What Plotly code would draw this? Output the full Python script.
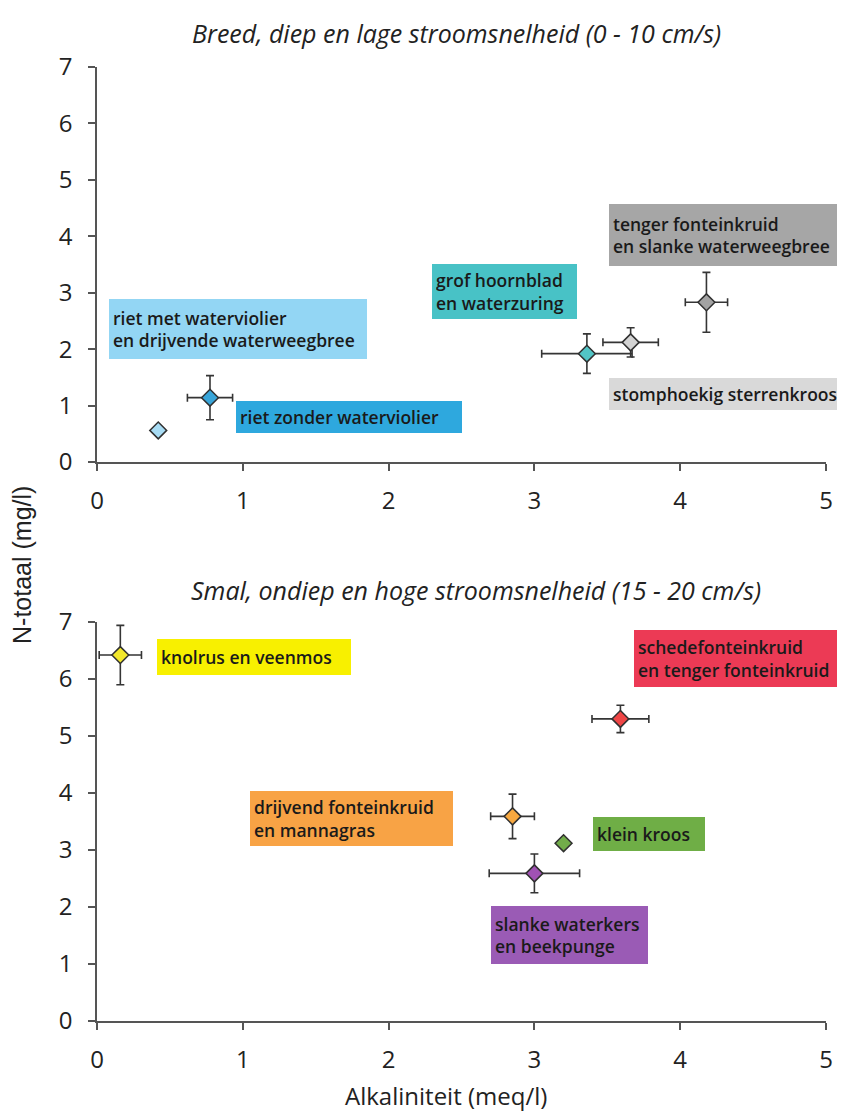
import plotly.graph_objects as go

# ---------------- data ----------------
# top panel: Breed, diep en lage stroomsnelheid
top_names = ["riet met waterviolier en drijvende waterweegbree", "riet zonder waterviolier",
             "grof hoornblad en waterzuring", "stomphoekig sterrenkroos",
             "tenger fonteinkruid en slanke waterweegbree"]
top_alk = [0.42, 0.775, 3.36, 3.66, 4.18]
top_n = [0.56, 1.14, 1.92, 2.12, 2.83]
top_alk_err = [None, 0.155, 0.31, 0.19, 0.145]
top_n_err = [None, 0.39, 0.35, 0.26, 0.53]

# bottom panel: Smal, ondiep en hoge stroomsnelheid
bot_names = ["knolrus en veenmos", "schedefonteinkruid en tenger fonteinkruid",
             "drijvend fonteinkruid en mannagras", "klein kroos",
             "slanke waterkers en beekpunge"]
bot_alk = [0.16, 3.59, 2.85, 3.20, 3.00]
bot_n = [6.42, 5.30, 3.59, 3.12, 2.59]
bot_alk_err = [0.145, 0.195, 0.15, None, 0.31]
bot_n_err = [0.52, 0.24, 0.39, None, 0.34]

x_ticks = [0, 1, 2, 3, 4, 5]
y_ticks = [0, 1, 2, 3, 4, 5, 6, 7]

title_top = "Breed, diep en lage stroomsnelheid (0 - 10 cm/s)"
title_bot = "Smal, ondiep en hoge stroomsnelheid (15 - 20 cm/s)"
x_title = "Alkaliniteit (meq/l)"
y_title = "N-totaal (mg/l)"

# ---------------- styles ----------------
top_marker_colors = ["#a8dcf4", "#39a5d9", "#52c5c6", "#d3d3d3", "#a3a3a3"]
bot_marker_colors = ["#f2e82c", "#ef4646", "#f7a840", "#72ad4a", "#a052b4"]

# label boxes: (text, x-left [data], y-center [data], width px, height px, colour)
top_labels = [
    ("riet met waterviolier<br>en drijvende waterweegbree", 0.082, 2.36, 258, 60, "#93d6f4"),
    ("riet zonder waterviolier", 0.953, 0.79, 226, 28, "#2ea8de"),
    ("grof hoornblad<br>en waterzuring", 2.30, 3.03, 145, 53, "#48c2c6"),
    ("tenger fonteinkruid<br>en slanke waterweegbree", 3.51, 4.02, 240, 62, "#a6a6a6"),
    ("stomphoekig sterrenkroos", 3.51, 1.20, 240, 29, "#d9d9d9"),
]
bot_labels = [
    ("knolrus en veenmos", 0.41, 6.39, 194, 36, "#f8f000"),
    ("schedefonteinkruid<br>en tenger fonteinkruid", 3.68, 6.36, 220, 57, "#ec3a55"),
    ("drijvend fonteinkruid<br>en mannagras", 1.05, 3.56, 203, 54, "#f8a345"),
    ("klein kroos", 3.40, 3.28, 112, 34, "#6fae46"),
    ("slanke waterkers<br>en beekpunge", 2.70, 1.51, 157, 58, "#9a5bb5"),
]

FONT = "Open Sans"
ERR_COLOR = "#353535"
TXT = "#222222"
LABEL_FS = 17.5

# page layout (page pixels; the browser body adds an 8px margin)
OFF = 8
W, Hfig = 845, 1110
L = 97 - OFF
R = W - (826 - OFF)
T = 67 - OFF
B = Hfig - (1021 - OFF)
PW = 826 - 97
PH = 1021 - 67


def px(x):  # page x pixel -> paper
    return (x - 97) / PW


def py(y):  # page y pixel -> paper
    return (1021 - y) / PH


fig = go.Figure()


def add_points(names, xs, ys, xe, ye, colors, xa, ya):
    for nm, x, y, ex, ey, c in zip(names, xs, ys, xe, ye, colors):
        fig.add_trace(go.Scatter(
            x=[x], y=[y], mode="markers", name=nm, xaxis=xa, yaxis=ya,
            marker=dict(symbol="diamond", size=13, color=c,
                        line=dict(color="#303030", width=1.5)),
            error_x=dict(type="data", array=[ex if ex else 0], visible=ex is not None,
                         color=ERR_COLOR, thickness=1.6, width=4),
            error_y=dict(type="data", array=[ey if ey else 0], visible=ey is not None,
                         color=ERR_COLOR, thickness=1.6, width=4),
            showlegend=False, cliponaxis=False,
        ))


add_points(top_names, top_alk, top_n, top_alk_err, top_n_err, top_marker_colors, "x", "y")
add_points(bot_names, bot_alk, bot_n, bot_alk_err, bot_n_err, bot_marker_colors, "x2", "y2")

PAD = 4
annotations = []
for labels, xr, yr in ((top_labels, "x", "y"), (bot_labels, "x2", "y2")):
    for txt, xl, yc, w, h, c in labels:
        nlines = txt.count("<br>") + 1
        need = nlines * 1.3 * LABEL_FS + 1
        annotations.append(dict(
            text=txt, x=xl, y=yc, xref=xr, yref=yr, xanchor="left", yanchor="middle",
            showarrow=False, align="left", valign="middle",
            width=w - 2 * PAD, height=max(h - 2 * PAD, need),
            borderpad=PAD, bgcolor=c, borderwidth=0,
            font=dict(family=FONT, size=LABEL_FS, color="#1a1a1a", weight=600),
        ))

annotations += [
    dict(text=title_top, x=px(456), y=py(33), xref="paper", yref="paper", showarrow=False,
         xanchor="center", yanchor="middle",
         font=dict(family=FONT, size=25, color=TXT, style="italic")),
    dict(text=title_bot, x=px(476), y=py(590), xref="paper", yref="paper", showarrow=False,
         xanchor="center", yanchor="middle",
         font=dict(family=FONT, size=25, color=TXT, style="italic")),
    dict(text=x_title, x=px(446), y=py(1095), xref="paper", yref="paper", showarrow=False,
         xanchor="center", yanchor="middle",
         font=dict(family=FONT, size=24, color=TXT)),
    dict(text=y_title, x=px(22), y=py(565), xref="paper", yref="paper", showarrow=False,
         xanchor="center", yanchor="middle", textangle=-90,
         font=dict(family="Liberation Sans", size=25, color=TXT)),
]

axis_common = dict(
    showline=True, linecolor="#555", linewidth=1.5, ticks="outside", ticklen=7,
    tickcolor="#555", tickwidth=1.5, showgrid=False, zeroline=False, automargin=False,
    tickfont=dict(family=FONT, size=24, color=TXT),
)

top_dom = [py(462), py(67)]
bot_dom = [py(1021), py(622)]

fig.update_layout(
    width=W, height=Hfig,
    margin=dict(l=L, r=R, t=T, b=B, autoexpand=False),
    paper_bgcolor="white", plot_bgcolor="white",
    xaxis=dict(axis_common, range=[0, 5], tickvals=x_ticks, domain=[0, 1], anchor="y",
               ticklabelstandoff=9),
    yaxis=dict(axis_common, range=[0, 7], tickvals=y_ticks, domain=top_dom, anchor="x",
               ticklabelstandoff=11),
    xaxis2=dict(axis_common, range=[0, 5], tickvals=x_ticks, domain=[0, 1], anchor="y2",
                ticklabelstandoff=9),
    yaxis2=dict(axis_common, range=[0, 7], tickvals=y_ticks, domain=bot_dom, anchor="x2",
                ticklabelstandoff=11),
    annotations=annotations,
)

fig.write_html("out.html")
